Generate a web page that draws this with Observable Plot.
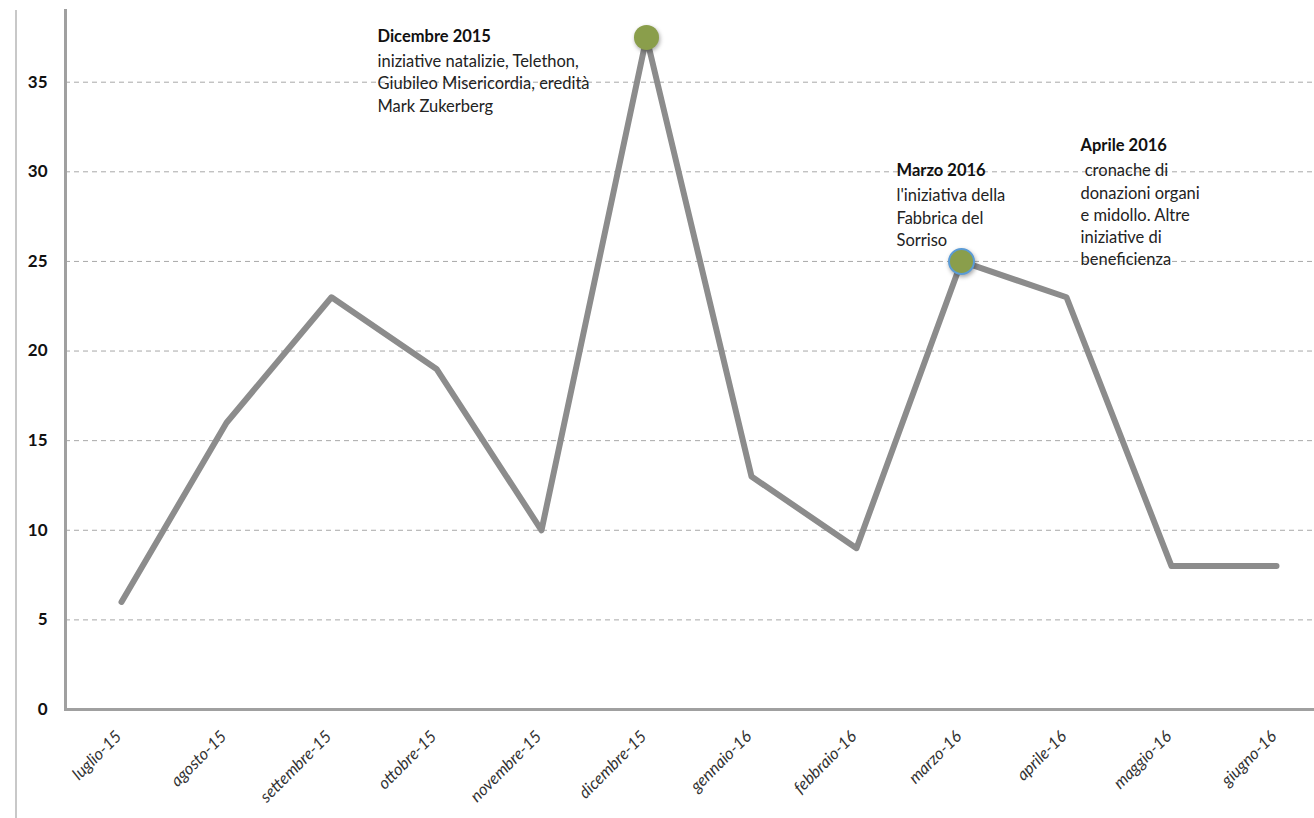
<!DOCTYPE html>
<html>
<head>
<meta charset="utf-8">
<script src="https://cdn.jsdelivr.net/npm/d3@7"></script>
<script src="https://cdn.jsdelivr.net/npm/@observablehq/plot@0.6"></script>
<style>
  html, body { margin: 0; padding: 0; background: #fff; }
  #wrap { position: relative; width: 1314px; height: 818px; }
  #wrap::before { content: ""; position: absolute; left: 15px; top: 10px; bottom: 0; border-left: 2px solid #c8c8c8; }
  svg text { font-family: Lato, "Open Sans", sans-serif; }
</style>
</head>
<body>
<div id="wrap"></div>
<script>
const months = ["luglio-15","agosto-15","settembre-15","ottobre-15","novembre-15","dicembre-15","gennaio-16","febbraio-16","marzo-16","aprile-16","maggio-16","giugno-16"];
const values = [6, 16, 23, 19, 10, 37.5, 13, 9, 25, 23, 8, 8];
const yTicks = [0, 5, 10, 15, 20, 25, 30, 35];
const highlightMonths = ["dicembre-15", "marzo-16"];
const highlightOutline = ["none", "#5b9bd5"];

const noteMonths = ["dicembre-15", "marzo-16", "aprile-16"];
const noteLevels = [37.9, 30.4, 31.8];
const noteTitles = ["Dicembre 2015", "Marzo 2016", "Aprile 2016"];
const noteBodies = [
  "iniziative natalizie, Telethon,\nGiubileo Misericordia, eredità\nMark Zukerberg",
  "l'iniziativa della\nFabbrica del\nSorriso",
  " cronache di\ndonazioni organi\ne midollo. Altre\niniziative di\nbeneficienza"
];
const noteShift = [-269, -65, 14];

const data = months.map((m, i) => ({month: m, value: values[i]}));
const highlights = highlightMonths.map((m, i) => ({month: m, value: values[months.indexOf(m)], outline: highlightOutline[i]}));
const notes = noteMonths.map((m, i) => ({month: m, level: noteLevels[i], title: noteTitles[i], body: noteBodies[i], shift: noteShift[i]}));

const noteMarks = notes.flatMap(n => [
  Plot.text([n], {x: "month", y: "level", text: "title", dx: n.shift, textAnchor: "start", lineAnchor: "top", fontSize: 16.5, fontWeight: "bold", fill: "#111"}),
  Plot.text([n], {x: "month", y: "level", text: "body", dx: n.shift, dy: 21, textAnchor: "start", lineAnchor: "top", lineHeight: 1.35, fontSize: 16.5, fill: "#222"})
]);

const chart = Plot.plot({
  width: 1314,
  height: 818,
  marginLeft: 65,
  marginRight: 0,
  marginTop: 10,
  marginBottom: 109,
  style: {fontFamily: "Lato, 'Open Sans', sans-serif", background: "#fff", overflow: "visible"},
  x: {type: "point", domain: months, range: [118, 1278], padding: 0, axis: null},
  y: {domain: [0, 39], axis: null},
  marks: [
    Plot.gridY(yTicks.filter(d => d > 0), {stroke: "#a8a8a8", strokeOpacity: 1, strokeWidth: 1, strokeDasharray: "5,4"}),
    Plot.axisY(yTicks, {tickSize: 0, tickPadding: 18, fontSize: 17, fontWeight: "bold", fill: "#111", label: null}),
    Plot.text(months, {x: d => d, frameAnchor: "bottom", rotate: -45, textAnchor: "end", dx: 1, dy: 28, fontSize: 16.5, fontStyle: "italic", fill: "#333"}),
    Plot.line(data, {x: "month", y: "value", stroke: "#8c8c8c", strokeWidth: 6, strokeLinecap: "round", strokeLinejoin: "round"}),
    Plot.ruleY([0], {stroke: "#a0a0a0", strokeWidth: 3}),
    Plot.frame({anchor: "left", stroke: "#a0a0a0", strokeWidth: 3}),
    Plot.dot(highlights, {x: "month", y: "value", r: 12.5, fill: "#8a9e4b", fillOpacity: 1, stroke: "outline", strokeWidth: 2, imageFilter: "drop-shadow(1px 2px 2px rgba(0,0,0,0.35))"}),
    ...noteMarks
  ]
});

document.getElementById("wrap").appendChild(chart);
</script>
</body>
</html>
